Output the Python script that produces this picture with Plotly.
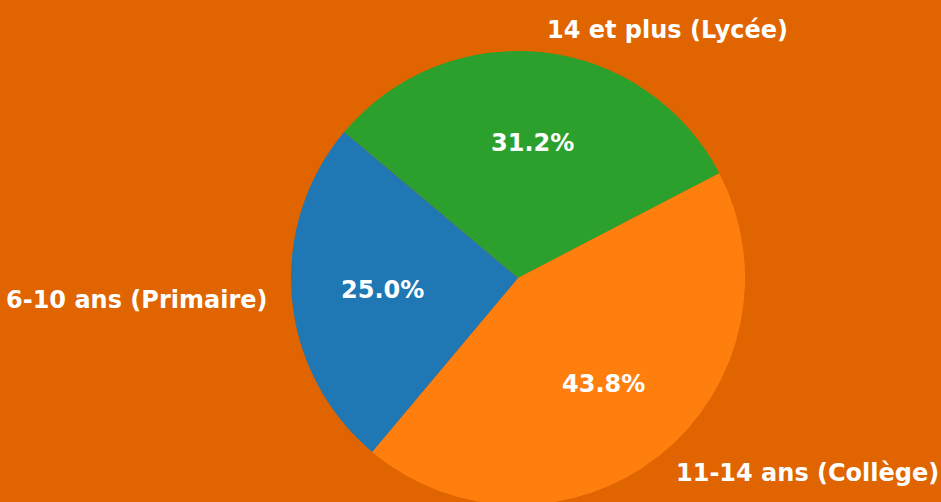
import math
import plotly.graph_objects as go

# Data
categories = ["6-10 ans (Primaire)", "11-14 ans (Collège)", "14 et plus (Lycée)"]
values = [4, 7, 5]
colors = ["#1f77b4", "#ff7f0e", "#2ca02c"]

# Layout constants (pixels)
W, H = 941, 520
CX, CY, R = 518, 278, 227
START_ANGLE = 140  # degrees, counterclockwise from 3 o'clock
BG = "#E06400"
FONT = "DejaVu Sans"

# Slices are laid out counterclockwise from START_ANGLE; Plotly draws clockwise
# from its rotation, so feed the series in reverse order.
fig = go.Figure()
fig.add_trace(go.Pie(
    labels=categories[::-1],
    values=values[::-1],
    sort=False,
    direction="clockwise",
    rotation=-(START_ANGLE - 90),
    marker=dict(colors=colors[::-1], line=dict(width=0)),
    textinfo="none",
    hoverinfo="label+percent",
    showlegend=False,
    domain=dict(x=[(CX - R) / W, (CX + R) / W],
                y=[1 - (CY + R) / H, 1 - (CY - R) / H]),
))

total = sum(values)
annotations = []
cum = 0
for lab, v in zip(categories, values):
    frac = v / total
    mid = math.radians(START_ANGLE + 360 * (cum + frac / 2))
    cum += frac
    c, s = math.cos(mid), math.sin(mid)
    # outer label
    lx = CX + 1.1 * R * c
    ly = CY - 1.1 * R * s
    annotations.append(dict(
        x=lx / W, y=1 - ly / H, xref="paper", yref="paper",
        text=f"<b>{lab}</b>", showarrow=False,
        xanchor="left" if c > 0 else "right", yanchor="middle",
        font=dict(family=FONT, size=24, color="white"),
    ))
    # percentage label
    px = CX + 0.6 * R * c
    py = CY - 0.6 * R * s
    annotations.append(dict(
        x=px / W, y=1 - py / H, xref="paper", yref="paper",
        text=f"<b>{100 * frac:.1f}%</b>", showarrow=False,
        xanchor="center", yanchor="middle",
        font=dict(family=FONT, size=24, color="white"),
    ))

fig.update_layout(
    width=W, height=H,
    margin=dict(l=0, r=0, t=0, b=0),
    paper_bgcolor=BG,
    plot_bgcolor=BG,
    annotations=annotations,
)

fig.write_html(
    "out.html",
    post_script="document.body.style.overflow='hidden';document.documentElement.style.overflow='hidden';document.body.style.margin='0';document.body.style.background='" + BG + "';",
)
